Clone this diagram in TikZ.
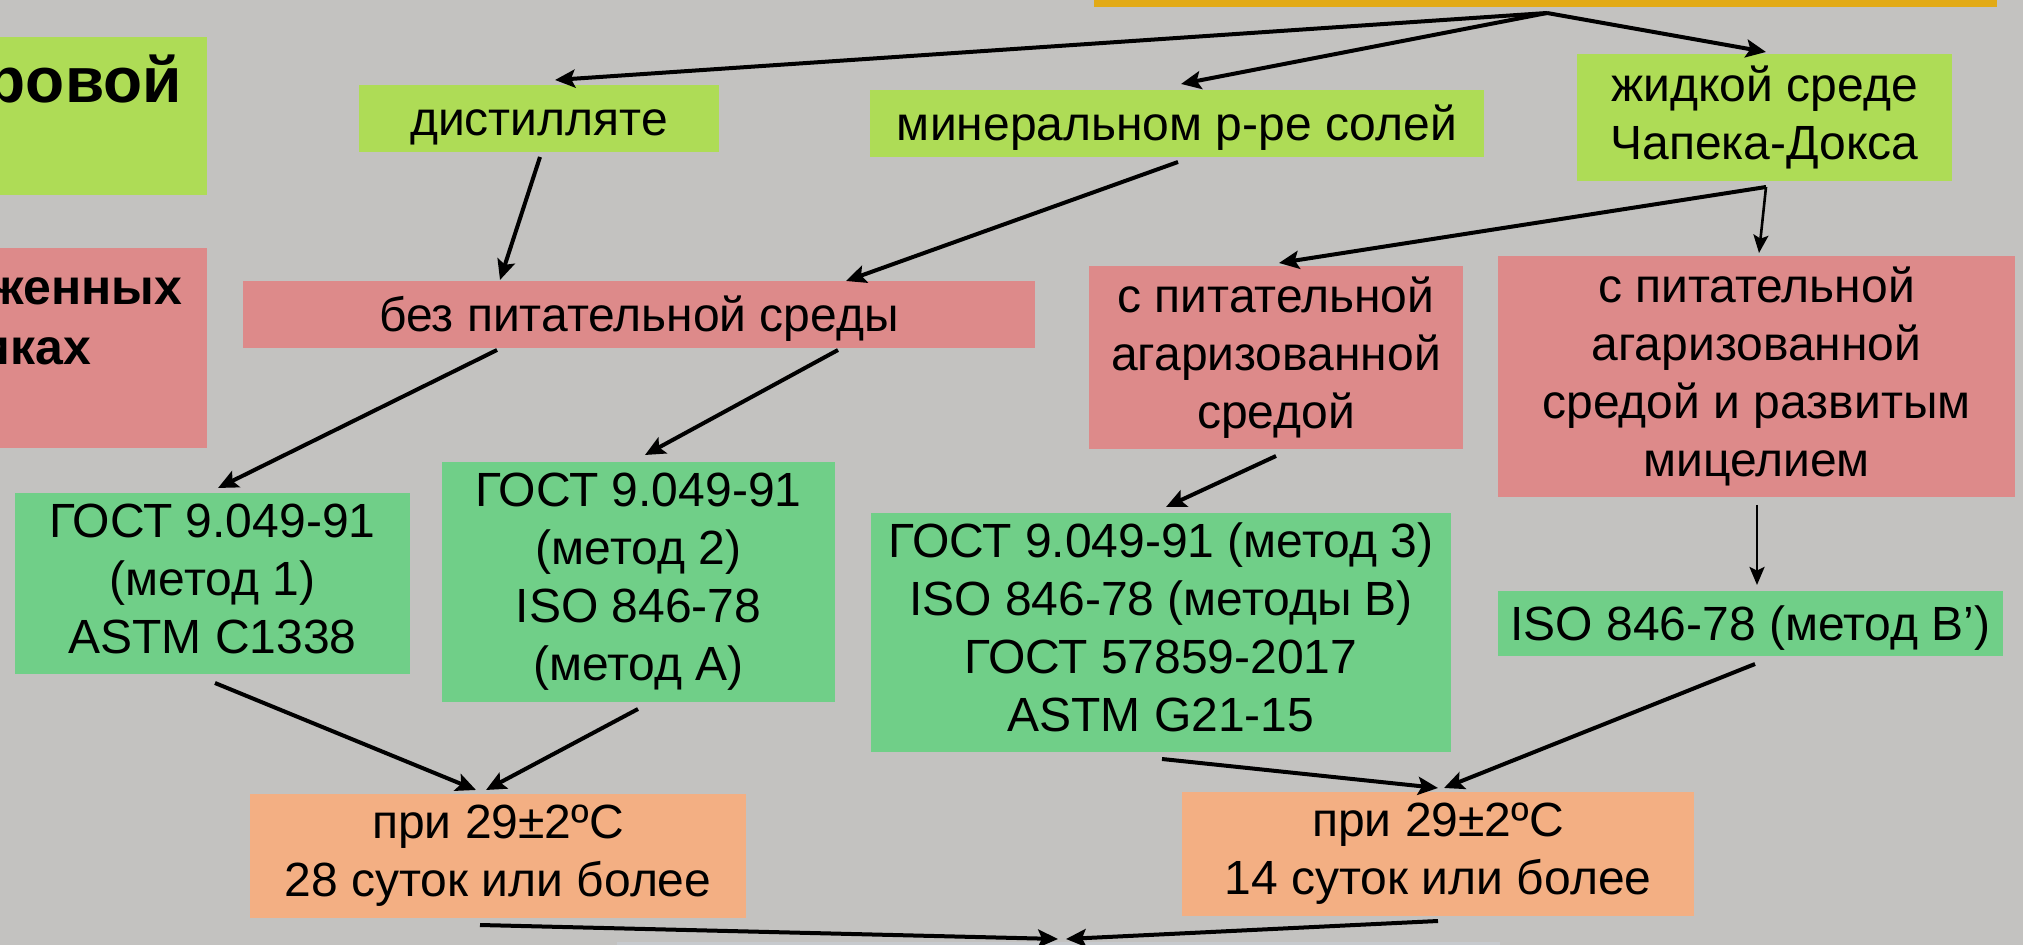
\documentclass[tikz,border=0pt]{standalone}
\usepackage{fontspec}
\setmainfont{Liberation Sans}
\usetikzlibrary{arrows.meta}
\definecolor{bgc}{HTML}{C3C2C0}
\definecolor{lime}{HTML}{AEDC56}
\definecolor{pinkred}{HTML}{DD8A8A}
\definecolor{mgreen}{HTML}{70CF88}
\definecolor{orng}{HTML}{F3AF83}
\definecolor{gold}{HTML}{E2AA16}
\definecolor{sliver}{HTML}{C7CACE}
\newcommand{\myStrut}{\rule[-0.212em]{0pt}{1.117em}}
\begin{document}
\begin{tikzpicture}[x=0.5pt,y=-0.5pt,
  box/.style={inner sep=0pt, align=center, font=\fontsize{24pt}{29pt}\selectfont, text=black,
    execute at begin node=\myStrut, execute at end node=\myStrut},
  plain/.style={inner sep=0pt, outer sep=0pt},
  conn/.style={line width=2pt, -{Stealth[length=10pt,width=9pt,inset=2pt]}},
  thinconn/.style={line width=1.3pt, -{Stealth[length=9pt,width=7.5pt,inset=1.8pt]}}]
\useasboundingbox (0,0) rectangle (2023,945);
\fill[bgc] (0,0) rectangle (2023,945);

% top (cropped) box
\node[plain, fill=gold, minimum width=451.5pt, minimum height=3.5pt] (topbox) at (1545.5,3.5) {};
% bottom (cropped) box
\node[plain, fill=sliver, minimum width=441.5pt, minimum height=1.5pt] (final) at (1058.5,943.5) {};

% left cropped boxes
\node[plain, fill=lime, minimum width=113.5pt, minimum height=79pt] (lgreen) at (93.5,116) {};
\node[plain, fill=pinkred, minimum width=113.5pt, minimum height=100pt] (lred) at (93.5,348) {};
\node[plain, anchor=base east, font=\fontsize{32pt}{38pt}\selectfont\bfseries] (lt1) at (182,103) {ровой};
\node[plain, anchor=base east, font=\fontsize{25pt}{30pt}\selectfont\bfseries] (lt2) at (182,305) {женных};
\node[plain, anchor=base east, font=\fontsize{25pt}{30pt}\selectfont\bfseries] (lt3) at (91,365) {иках};

% second row
\node[box, fill=lime, minimum width=180pt, minimum height=33.5pt] (dist) at (539,118.5) {дистилляте};
\node[box, fill=lime, minimum width=307pt, minimum height=33.5pt] (miner) at (1177,123.5) {минеральном р-ре солей};
\node[box, fill=lime, minimum width=187.5pt, minimum height=63.5pt] (zhid) at (1764.5,117.5) {жидкой среде\\Чапека-Докса};

% third row
\node[box, fill=pinkred, minimum width=396pt, minimum height=33.5pt] (bez) at (639,314.5) {без питательной среды};
\node[box, fill=pinkred, minimum width=187pt, minimum height=91.5pt] (agar) at (1276,357.5) {с питательной\\агаризованной\\средой};
\node[box, fill=pinkred, minimum width=258.5pt, minimum height=120.5pt] (mic) at (1756.5,376.5) {с питательной\\агаризованной\\средой и развитым\\мицелием};

% standards
\node[box, fill=mgreen, minimum width=197.5pt, minimum height=90.5pt] (g1) at (212.5,583.5) {ГОСТ 9.049-91\\(метод 1)\\ASTM C1338};
\node[box, fill=mgreen, minimum width=196.5pt, minimum height=120pt] (g2) at (638.5,582) {ГОСТ 9.049-91\\(метод 2)\\ISO 846-78\\(метод А)};
\node[box, fill=mgreen, minimum width=290pt, minimum height=119.5pt] (g3) at (1161,632.5) {ГОСТ 9.049-91 (метод 3)\\ISO 846-78 (методы В)\\ГОСТ 57859-2017\\ASTM G21-15};
\node[box, fill=mgreen, minimum width=252.5pt, minimum height=32.5pt] (iso) at (1750.5,623.5) {ISO 846-78 (метод В’)};

% conditions
\node[box, fill=orng, minimum width=248pt, minimum height=62pt] (o1) at (498,856) {при 29±2ºC\\28 суток или более};
\node[box, fill=orng, minimum width=256pt, minimum height=62pt] (o2) at (1438,854) {при 29±2ºC\\14 суток или более};

% connector end points
\coordinate (apex) at (1547,13);
\coordinate (distN) at (555,80);
\coordinate (minerN) at (1181,84);
\coordinate (zhidN) at (1766,52);
\coordinate (distS) at (540,157);
\coordinate (bezNa) at (500,280);
\coordinate (minerS) at (1178,162);
\coordinate (bezNb) at (846,281);
\coordinate (zhidS) at (1766,187);
\coordinate (agarN) at (1279,263);
\coordinate (micN) at (1759,253);
\coordinate (bezSa) at (497,350);
\coordinate (g1N) at (218,488);
\coordinate (bezSb) at (838,350);
\coordinate (g2N) at (645,455);
\coordinate (agarS) at (1276,456);
\coordinate (g3N) at (1166,507);
\coordinate (micS) at (1757,505);
\coordinate (isoN) at (1757,585);
\coordinate (g1S) at (215,683);
\coordinate (o1Na) at (476,790);
\coordinate (g2S) at (638,709);
\coordinate (o1Nb) at (486,790);
\coordinate (g3S) at (1162,759);
\coordinate (o2Na) at (1438,788);
\coordinate (isoS) at (1755,664);
\coordinate (o2Nb) at (1444,788);
\coordinate (o1S) at (480,925);
\coordinate (finalNa) at (1058,939);
\coordinate (o2S) at (1438,921);
\coordinate (finalNb) at (1066,939);

\draw[conn] (apex) -- (distN);
\draw[conn] (apex) -- (minerN);
\draw[conn] (apex) -- (zhidN);
\draw[conn] (distS) -- (bezNa);
\draw[conn] (minerS) -- (bezNb);
\draw[conn] (zhidS) -- (agarN);
\draw[thinconn] (zhidS) -- (micN);
\draw[conn] (bezSa) -- (g1N);
\draw[conn] (bezSb) -- (g2N);
\draw[conn] (agarS) -- (g3N);
\draw[thinconn] (micS) -- (isoN);
\draw[conn] (g1S) -- (o1Na);
\draw[conn] (g2S) -- (o1Nb);
\draw[conn] (g3S) -- (o2Na);
\draw[conn] (isoS) -- (o2Nb);
\draw[conn] (o1S) -- (finalNa);
\draw[conn] (o2S) -- (finalNb);
\end{tikzpicture}
\end{document}
